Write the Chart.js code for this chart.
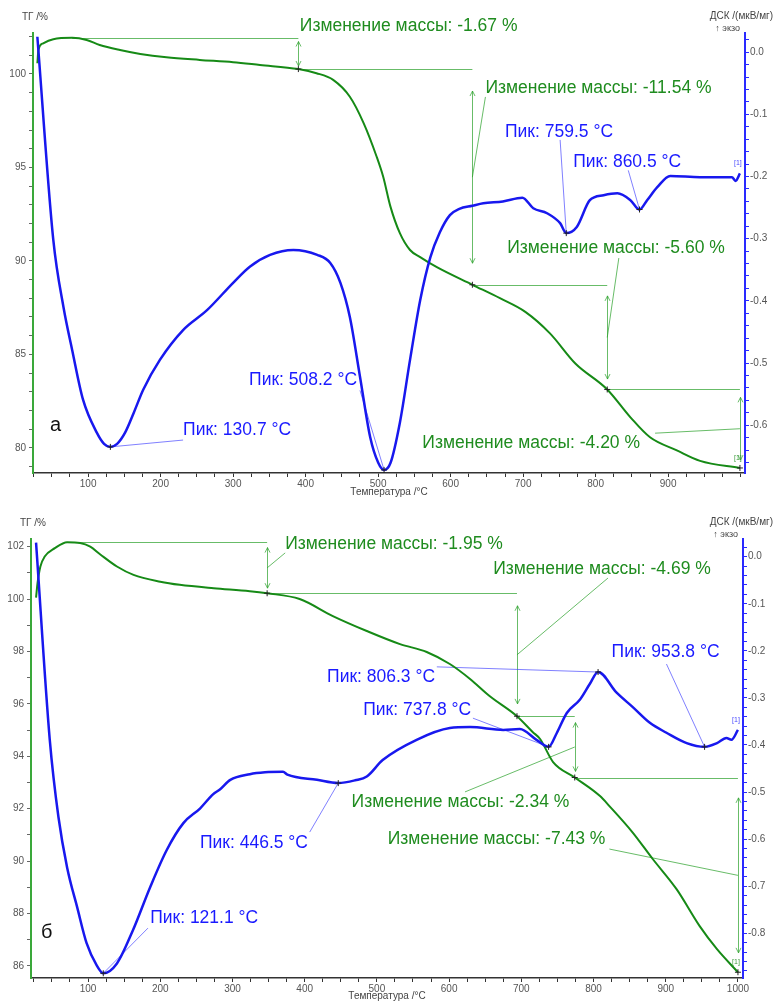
<!DOCTYPE html>
<html>
<head>
<meta charset="utf-8">
<title>ТГ / ДСК</title>
<script src="https://cdn.jsdelivr.net/npm/chart.js@4.4.1/dist/chart.umd.min.js"></script>
<style>
  html, body { margin: 0; padding: 0; background: #ffffff; }
  #wrap { position: relative; width: 775px; height: 1002px; }
  .panel { position: absolute; left: 0; width: 775px; height: 501px; }
</style>
</head>
<body>
<div id="wrap">
  <div class="panel" style="top:0"><canvas id="chartA" width="775" height="501"></canvas></div>
  <div class="panel" style="top:501px"><canvas id="chartB" width="775" height="501"></canvas></div>
</div>
<script>
// ---------- Panel а : TG curve ----------
const tgTempA = [30, 31.5, 38, 52, 78, 98, 116, 144, 172, 208, 254, 300, 337, 390, 415, 438, 461, 480, 498, 507,
                 517, 530, 544, 558, 581, 630, 668, 703, 737, 772, 816, 848, 875, 912, 944, 999];
const tgA = [100.57, 101.28, 101.64, 101.86, 101.93, 101.82, 101.55, 101.28, 101.07, 100.89, 100.75, 100.63, 100.48,
             100.26, 100.04, 99.68, 98.78, 97.37, 95.57, 94.5, 92.9, 91.48, 90.58, 90.2, 89.66, 88.72, 88.0, 87.27,
             86.12, 84.51, 83.12, 81.63, 80.56, 79.86, 79.3, 78.92];
// ---------- Panel а : DSC curve ----------
const dscTempA = [30, 52, 66, 78, 93, 112, 122, 130.7, 140, 151, 163, 176, 199, 231, 264, 300, 323, 351, 383, 416,
                  434, 448, 461, 475, 489, 500, 508.2, 517, 530, 544, 558, 572, 585, 599, 612, 630, 645, 672, 699, 714,
                  733, 751, 759.5, 774, 792, 811, 830, 848, 860.5, 871, 885, 903, 944, 988, 993, 999];
const dscA = [0.025, -0.302, -0.41, -0.479, -0.559, -0.612, -0.630, -0.635, -0.630, -0.612, -0.580, -0.543, -0.495,
              -0.447, -0.415, -0.371, -0.345, -0.326, -0.318, -0.326, -0.339, -0.371, -0.426, -0.522, -0.619, -0.660,
              -0.672, -0.661, -0.596, -0.495, -0.399, -0.330, -0.290, -0.262, -0.252, -0.247, -0.243, -0.240, -0.234,
              -0.251, -0.259, -0.275, -0.291, -0.281, -0.238, -0.230, -0.227, -0.238, -0.253, -0.238, -0.217, -0.199,
              -0.201, -0.201, -0.207, -0.195];
// mass-loss steps: temperatures of the step marks, starting level, changes
const massTempA = [78, 390, 630, 816, 999];
const massStartA = 101.93;
const massChangeA = [-1.67, -11.54, -5.60, -4.20];
const peakTempA = [130.7, 508.2, 759.5, 860.5];
// tick labels
const xLabelsA = [100, 200, 300, 400, 500, 600, 700, 800, 900];
const tgLabelsA = [80, 85, 90, 95, 100];
const dscLabelsA = [0, -0.1, -0.2, -0.3, -0.4, -0.5, -0.6];

// ---------- Panel б : TG curve ----------
const tgTempB = [28, 30, 34, 40, 54, 71, 89, 103, 117, 140, 163, 200, 227, 274, 324, 348, 393, 439, 486, 532,
                 569, 601, 629, 656, 694, 716, 726, 744, 774, 809, 822, 854, 882, 915, 947, 971, 1000];
const tgB = [100.05, 100.6, 101.24, 101.62, 101.94, 102.17, 102.14, 102.0, 101.7, 101.24, 100.92, 100.66, 100.54,
             100.41, 100.3, 100.22, 100.0, 99.35, 98.78, 98.28, 97.98, 97.52, 96.95, 96.3, 95.53, 94.92, 94.66, 93.78,
             93.19, 92.48, 92.1, 91.1, 90.08, 88.93, 87.52, 86.64, 85.76];
// ---------- Panel б : DSC curve ----------
const dscTempB = [28, 47, 59, 71, 85, 98, 112, 121.1, 140, 162, 186, 209, 232, 255, 273, 283, 297, 324, 345, 370,
                  376, 417, 446.5, 470, 486, 508, 555, 601, 629, 675, 698, 721, 737.8, 749, 763, 781, 795, 806.3, 832,
                  854, 878, 901, 929, 953.8, 971, 984, 991, 1000];
const dscB = [0.03, -0.389, -0.553, -0.66, -0.745, -0.821, -0.868, -0.885, -0.864, -0.794, -0.702, -0.623, -0.566,
              -0.535, -0.505, -0.494, -0.474, -0.462, -0.458, -0.457, -0.463, -0.474, -0.481, -0.475, -0.467, -0.432,
              -0.389, -0.364, -0.362, -0.368, -0.366, -0.389, -0.404, -0.375, -0.332, -0.304, -0.27, -0.245, -0.289,
              -0.319, -0.353, -0.374, -0.396, -0.404, -0.396, -0.385, -0.389, -0.368];
const massTempB = [71, 348, 694, 774, 1000];
const massStartB = 102.17;
const massChangeB = [-1.95, -4.69, -2.34, -7.43];
const peakTempB = [121.1, 446.5, 737.8, 806.3, 953.8];
const xLabelsB = [100, 200, 300, 400, 500, 600, 700, 800, 900, 1000];
const tgLabelsB = [86, 88, 90, 92, 94, 96, 98, 100, 102];
const dscLabelsB = [0, -0.1, -0.2, -0.3, -0.4, -0.5, -0.6, -0.7, -0.8];

// ---------- shared drawing helpers ----------
const FONT = '"Liberation Sans", Arial, Helvetica, sans-serif';
const GREEN_TEXT = '#1f8c1f';
const BLUE_TEXT = '#1a1aff';

function zip(xs, ys) { return xs.map((x, i) => ({ x: x, y: ys[i] })); }
function stepTicks(min, max, step) {
  const out = [];
  const a = Math.ceil(min / step - 1e-9), b = Math.floor(max / step + 1e-9);
  for (let i = a; i <= b; i++) out.push({ value: +(i * step).toFixed(6) });
  return out;
}
function isMajor(v, list) { return list.some(m => Math.abs(m - v) < 1e-6); }
function massLevels(start, changes) {
  const lv = [start];
  changes.forEach((d, i) => lv.push(+(lv[i] + d).toFixed(2)));
  return lv;
}
function seg(ctx, x1, y1, x2, y2) {
  ctx.beginPath(); ctx.moveTo(x1, y1); ctx.lineTo(x2, y2); ctx.stroke();
}
function vArrow(ctx, x, yTop, yBot) {
  const inset = (yBot - yTop) * 0.1;
  const a = yTop + inset, b = yBot - inset, h = 5, w = 2.5;
  seg(ctx, x, a, x, b);
  ctx.beginPath(); ctx.moveTo(x - w, a + h); ctx.lineTo(x, a); ctx.lineTo(x + w, a + h); ctx.stroke();
  ctx.beginPath(); ctx.moveTo(x - w, b - h); ctx.lineTo(x, b); ctx.lineTo(x + w, b - h); ctx.stroke();
}
function cross(ctx, x, y) {
  ctx.beginPath();
  ctx.moveTo(x - 3, y); ctx.lineTo(x + 3, y);
  ctx.moveTo(x, y - 3); ctx.lineTo(x, y + 3);
  ctx.stroke();
}

function thermoPlugin(p) {
  return {
    id: 'thermoAnnotations',
    beforeDatasetsDraw(chart) {
      const ctx = chart.ctx, s = chart.scales;
      const X = t => s.x.getPixelForValue(t), YT = v => s.yTG.getPixelForValue(v), YD = v => s.yDSC.getPixelForValue(v);
      const lv = massLevels(p.massStart, p.massChange);
      ctx.save();
      ctx.lineWidth = 1;
      ctx.strokeStyle = 'rgba(40,160,40,0.7)';
      for (let i = 0; i < p.massChange.length; i++) {
        const xa = X(p.massTemp[i]), xb = X(p.massTemp[i + 1]);
        const ya = Math.round(YT(lv[i])) + 0.5, yb = YT(lv[i + 1]);
        seg(ctx, xa, ya, xb, ya);
        vArrow(ctx, Math.round(xb) + 0.5, ya, yb);
        const lab = p.massLabels[i];
        if (lab.end) seg(ctx, xb, (ya + yb) / 2, X(lab.end[0]), YT(lab.end[1]));
      }
      ctx.strokeStyle = 'rgba(60,60,255,0.65)';
      p.peakTemp.forEach((t, i) => {
        const k = p.dscTemp.indexOf(t);
        const lab = p.peakLabels[i];
        seg(ctx, X(t), YD(p.dsc[k]), X(lab.end[0]), YD(lab.end[1]));
      });
      ctx.restore();
    },
    afterDatasetsDraw(chart) {
      const ctx = chart.ctx, s = chart.scales, area = chart.chartArea;
      const X = t => s.x.getPixelForValue(t), YT = v => s.yTG.getPixelForValue(v), YD = v => s.yDSC.getPixelForValue(v);
      const lv = massLevels(p.massStart, p.massChange);
      ctx.save();
      // step and peak marks
      ctx.strokeStyle = '#222'; ctx.lineWidth = 1;
      for (let i = 1; i < p.massTemp.length; i++) cross(ctx, X(p.massTemp[i]), YT(lv[i]));
      p.peakTemp.forEach(t => cross(ctx, X(t), YD(p.dsc[p.dscTemp.indexOf(t)])));
      // annotation texts
      ctx.textBaseline = 'middle'; ctx.textAlign = 'left';
      ctx.font = '17.5px ' + FONT;
      ctx.fillStyle = GREEN_TEXT;
      p.massChange.forEach((d, i) => {
        const lab = p.massLabels[i];
        ctx.fillText('Изменение массы: ' + d.toFixed(2) + ' %', X(lab.at[0]), YT(lab.at[1]));
      });
      ctx.fillStyle = BLUE_TEXT;
      p.peakTemp.forEach((t, i) => {
        const lab = p.peakLabels[i];
        ctx.fillText('Пик: ' + t.toFixed(1) + ' °C', X(lab.at[0]), YD(lab.at[1]));
      });
      // end-of-curve tags
      ctx.font = '7px ' + FONT; ctx.textAlign = 'center';
      const nD = p.dscTemp.length - 1, nT = p.tgTemp.length - 1;
      ctx.fillStyle = '#4a4aff';
      ctx.fillText('[1]', X(p.dscTemp[nD]) - 2, YD(p.dsc[nD]) - 10);
      ctx.fillStyle = '#3a9a3a';
      ctx.fillText('[1]', X(p.tgTemp[nT]) - 2, YT(p.tg[nT]) - 10);
      // axis captions
      ctx.fillStyle = '#444';
      ctx.font = '10px ' + FONT;
      ctx.textAlign = 'left';
      ctx.fillText('ТГ /%', area.left - 11, area.top - 16);
      ctx.textAlign = 'right';
      ctx.fillText('ДСК /(мкВ/мг)', 773, area.top - 17);
      ctx.font = '9px ' + FONT;
      ctx.fillText('↑ экзо', area.right - 5, area.top - 4);
      ctx.font = '10px ' + FONT;
      ctx.textAlign = 'center';
      ctx.fillText('Температура /°C', (area.left + area.right) / 2, area.bottom + p.xTitleGap);
      // panel letter
      ctx.fillStyle = '#111';
      ctx.font = '20px ' + FONT;
      ctx.textAlign = 'left';
      ctx.fillText(p.letter, area.left + p.letterDx, area.bottom - p.letterDy);
      ctx.restore();
    }
  };
}

function makePanel(canvasId, p) {
  const tickFont = { family: FONT, size: 10 };
  new Chart(document.getElementById(canvasId), {
    type: 'line',
    data: {
      datasets: [
        { label: 'ДСК', data: zip(p.dscTemp, p.dsc), yAxisID: 'yDSC', borderColor: '#1818ee', borderWidth: 2.5,
          pointRadius: 0, cubicInterpolationMode: 'monotone', fill: false, order: 1 },
        { label: 'ТГ', data: zip(p.tgTemp, p.tg), yAxisID: 'yTG', borderColor: '#168a16', borderWidth: 2,
          pointRadius: 0, cubicInterpolationMode: 'monotone', fill: false, order: 2 }
      ]
    },
    options: {
      responsive: false,
      animation: false,
      events: [],
      layout: { padding: { top: p.padTop, left: 0, right: 0, bottom: 0 } },
      plugins: { legend: { display: false }, tooltip: { enabled: false } },
      scales: {
        x: {
          type: 'linear', position: 'bottom', min: p.xMin, max: p.xMax,
          afterBuildTicks: sc => { sc.ticks = stepTicks(p.xMin, p.xMax, 25); },
          afterFit: sc => { sc.height = p.xAxisH; },
          ticks: { autoSkip: false, maxRotation: 0, padding: 1, color: '#555', font: tickFont,
                   callback: v => isMajor(v, p.xLabels) ? String(v) : '' },
          grid: { drawOnChartArea: false, drawTicks: true, tickLength: 4, tickColor: '#333' },
          border: { color: '#333', width: 1.5 }
        },
        yTG: {
          type: 'linear', position: 'left', min: p.tgMin, max: p.tgMax,
          afterBuildTicks: sc => { sc.ticks = stepTicks(p.tgMin, p.tgMax, 1); },
          afterFit: sc => { sc.width = p.leftW; },
          ticks: { autoSkip: false, padding: 3, color: '#555', font: tickFont,
                   callback: v => isMajor(v, p.tgLabels) ? String(v) : '' },
          grid: { drawOnChartArea: false, drawTicks: true, tickLength: 4, tickColor: '#666' },
          border: { color: '#3aa83a', width: 2 }
        },
        yDSC: {
          type: 'linear', position: 'right', min: p.dscMin, max: p.dscMax,
          afterBuildTicks: sc => { sc.ticks = stepTicks(p.dscMin, p.dscMax, 0.02); },
          afterFit: sc => { sc.width = p.rightW; },
          ticks: { autoSkip: false, padding: 1, color: '#555', font: tickFont,
                   callback: v => isMajor(v, p.dscLabels) ? (Math.abs(v) < 1e-9 ? '0.0' : v.toFixed(1)) : '' },
          grid: { drawOnChartArea: false, drawTicks: true, tickLength: 4, tickColor: '#2a2aff' },
          border: { color: '#2a2aff', width: 2 }
        }
      }
    },
    plugins: [thermoPlugin(p)]
  });
}

makePanel('chartA', {
  tgTemp: tgTempA, tg: tgA, dscTemp: dscTempA, dsc: dscA,
  massTemp: massTempA, massStart: massStartA, massChange: massChangeA, peakTemp: peakTempA,
  xLabels: xLabelsA, tgLabels: tgLabelsA, dscLabels: dscLabelsA,
  xMin: 24, xMax: 1006, tgMin: 78.65, tgMax: 102.19, dscMin: -0.677, dscMax: 0.031,
  padTop: 33, leftW: 33, rightW: 30, xAxisH: 28, xTitleGap: 19,
  letter: 'а', letterDx: 17, letterDy: 48,
  massLabels: [
    { at: [392, 102.57], end: null },
    { at: [648, 99.25], end: [648, 98.77] },
    { at: [678, 90.69], end: [832, 90.15] },
    { at: [561, 80.25], end: [882, 80.78] }
  ],
  peakLabels: [
    { at: [231, -0.608], end: [231, -0.624] },
    { at: [322, -0.528], end: [475, -0.544] },
    { at: [675, -0.128], end: [751, -0.141] },
    { at: [769, -0.177], end: [845, -0.190] }
  ]
});

makePanel('chartB', {
  tgTemp: tgTempB, tg: tgB, dscTemp: dscTempB, dsc: dscB,
  massTemp: massTempB, massStart: massStartB, massChange: massChangeB, peakTemp: peakTempB,
  xLabels: xLabelsB, tgLabels: tgLabelsB, dscLabels: dscLabelsB,
  xMin: 21, xMax: 1007, tgMin: 85.54, tgMax: 102.29, dscMin: -0.895, dscMax: 0.0376,
  padTop: 38, leftW: 31, rightW: 32, xAxisH: 24, xTitleGap: 18,
  letter: 'б', letterDx: 10, letterDy: 46,
  massLabels: [
    { at: [373, 102.1], end: [373, 101.76] },
    { at: [661, 101.15], end: [820, 100.8] },
    { at: [465, 92.26], end: [622, 92.64] },
    { at: [515, 90.84], end: [822, 90.46] }
  ],
  peakLabels: [
    { at: [186, -0.768], end: [183, -0.789] },
    { at: [255, -0.608], end: [407, -0.585] },
    { at: [481, -0.326], end: [633, -0.343] },
    { at: [431, -0.256], end: [583, -0.234] },
    { at: [825, -0.203], end: [901, -0.228] }
  ]
});
</script>
</body>
</html>
